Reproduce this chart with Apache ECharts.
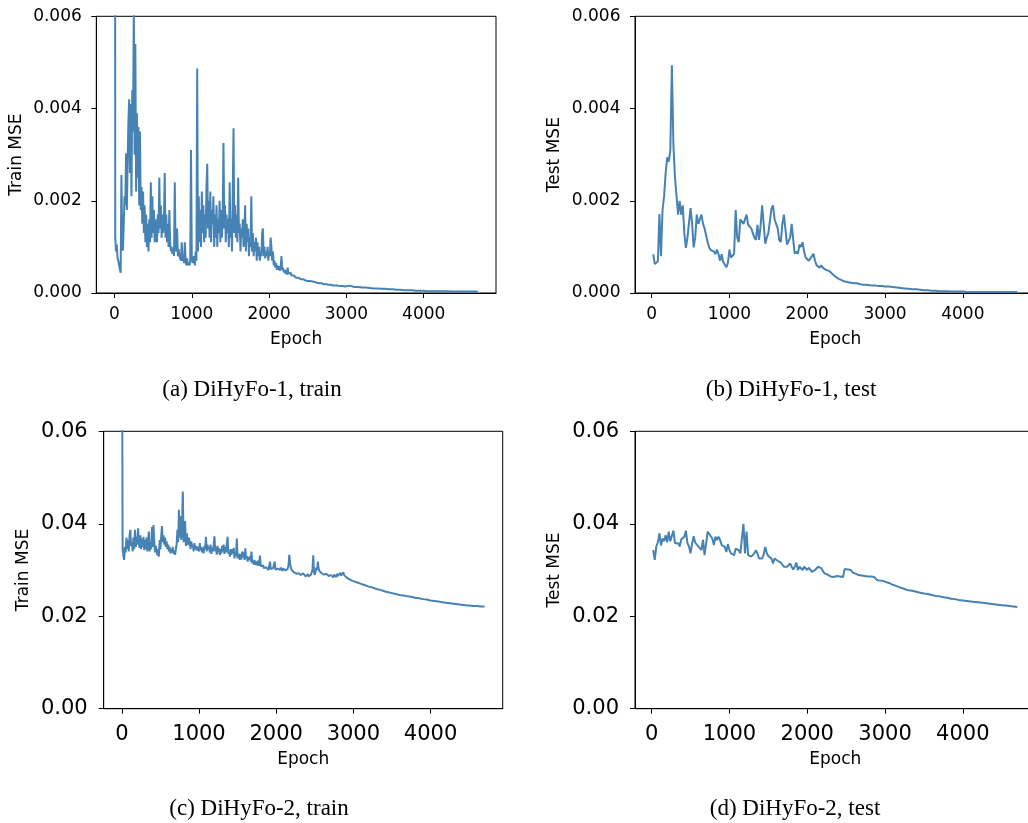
<!DOCTYPE html>
<html><head><meta charset="utf-8">
<script src="https://cdn.jsdelivr.net/npm/echarts@6/dist/echarts.min.js"></script>
<style>html,body{margin:0;padding:0;background:#fff}#c{width:1028px;height:823px}</style>
</head><body><div id="c"></div>
<script>
// ---------- DATA ----------
const trainEpochs = [
0,10,20,30,40,50,60,70,80,90,100,110,120,130,140,150,160,170,180,190,
200,210,220,230,240,250,260,270,280,290,300,310,320,330,340,350,360,370,380,390,
400,410,420,430,440,450,460,470,480,490,500,510,520,530,540,550,560,570,580,590,
600,610,620,630,640,650,660,670,680,690,700,710,720,730,740,750,760,770,780,790,
800,810,820,830,840,850,860,870,880,890,900,910,920,930,940,950,960,970,980,990,
1000,1010,1020,1030,1040,1050,1060,1070,1080,1090,1100,1110,1120,1130,1140,1150,1160,1170,1180,1190,
1200,1210,1220,1230,1240,1250,1260,1270,1280,1290,1300,1310,1320,1330,1340,1350,1360,1370,1380,1390,
1400,1410,1420,1430,1440,1450,1460,1470,1480,1490,1500,1510,1520,1530,1540,1550,1560,1570,1580,1590,
1600,1610,1620,1630,1640,1650,1660,1670,1680,1690,1700,1710,1720,1730,1740,1750,1760,1770,1780,1790,
1800,1810,1820,1830,1840,1850,1860,1870,1880,1890,1900,1910,1920,1930,1940,1950,1960,1970,1980,1990,
2000,2010,2020,2030,2040,2050,2060,2070,2080,2090,2100,2110,2120,2130,2140,2150,2160,2170,2180,2190,
2200,2210,2220,2230,2240,2250,2260,2270,2280,2290,2300,2310,2320,2330,2340,2350,2360,2370,2380,2390,
2400,2410,2420,2430,2440,2450,2460,2470,2480,2490,2500,2510,2520,2530,2540,2550,2560,2570,2580,2590,
2600,2610,2620,2630,2640,2650,2660,2670,2680,2690,2700,2710,2720,2730,2740,2750,2760,2770,2780,2790,
2800,2810,2820,2830,2840,2850,2860,2870,2880,2890,2900,2910,2920,2930,2940,2950,2960,2970,2980,2990,
3000,3050,3100,3150,3200,3250,3300,3350,3400,3450,3500,3550,3600,3650,3700,3750,3800,3850,3900,3950,
4000,4050,4100,4150,4200,4250,4300,4350,4400,4450,4500,4550,4600,4650,4700
];

// (a) DiHyFo-1 train MSE
const trainMse1 = [
0.05,0.0012,0.0009,0.00105,0.00075,0.0007,0.0006,0.00052,0.00044,0.00256,
0.0011,0.00092,0.00088,0.0021,0.0019,0.00303,0.0018,0.0028,0.0037,0.0042,
0.0026,0.0041,0.0021,0.0044,0.0035,0.0062,0.0030,0.0054,0.0022,0.0039,
0.0025,0.0036,0.0019,0.0035,0.0018,0.0023,0.0015,0.0022,0.0013,0.0019,
0.0011,0.0017,0.0010,0.0015,0.0009,0.0016,0.0011,0.0024,0.0012,0.0021,
0.0013,0.0018,0.0011,0.0016,0.0012,0.0011,0.0017,0.0013,0.0025,0.0014,
0.0019,0.0012,0.0017,0.0013,0.0016,0.0026,0.0012,0.0017,0.0011,0.0015,
0.0010,0.0018,0.0011,0.0009,0.0010,0.00085,0.00095,0.0008,0.0024,0.0010,
0.0009,0.0014,0.0008,0.00095,0.0008,0.0008,0.0007,0.0011,0.0007,0.0008,
0.00065,0.0011,0.0007,0.0006,0.00075,0.0006,0.00065,0.0006,0.0007,0.0031,
0.0008,0.00065,0.0007,0.0008,0.0006,0.0009,0.0007,0.00487,0.0009,0.0021,
0.0011,0.0018,0.0010,0.0022,0.0013,0.0019,0.0011,0.0017,0.0012,0.0023,
0.0028,0.0014,0.0020,0.0012,0.0022,0.0011,0.0018,0.0015,0.0021,0.0010,
0.0017,0.0012,0.0019,0.0010,0.0016,0.0013,0.0020,0.0011,0.0018,0.0012,
0.0017,0.00325,0.0014,0.0019,0.0011,0.0017,0.0013,0.0016,0.0010,0.0024,
0.0012,0.0016,0.0009,0.0022,0.00357,0.0013,0.0019,0.0012,0.0017,0.0011,
0.0025,0.0013,0.0015,0.0009,0.0014,0.0012,0.0016,0.0010,0.0013,0.0019,
0.0009,0.0015,0.0011,0.0014,0.0008,0.0012,0.0010,0.0021,0.0009,0.0013,
0.0008,0.0011,0.0009,0.0012,0.0007,0.0011,0.0008,0.0010,0.0007,0.0009,
0.0008,0.0013,0.0014,0.0008,0.0010,0.00075,0.0009,0.0008,0.0010,0.0007,
0.0009,0.0008,0.0012,0.0010,0.0007,0.0009,0.0006,0.0007,0.00055,0.00065,
0.0005,0.0006,0.0005,0.00058,0.00048,0.00055,0.0008,0.0005,0.00055,0.00045,
0.0005,0.00042,0.0005,0.0004,0.00055,0.00042,0.00045,0.0004,0.00044,0.00038,
0.0004,0.00036,0.00038,0.00034,0.00036,0.00033,0.00034,0.00032,0.00033,0.00031,
0.00031,0.0003,0.00031,0.00029,0.0003,0.00028,0.00029,0.00027,0.00028,0.00027,
0.00026,0.00027,0.00025,0.00026,0.00025,0.00024,0.00025,0.00024,0.00023,0.00024,
0.00022,0.00023,0.00022,0.00021,0.00022,0.00021,0.00021,0.0002,0.00021,0.0002,
0.0002,0.00019,0.0002,0.00019,0.00019,0.00018,0.00019,0.00018,0.00018,0.00017,
0.00018,0.00017,0.00017,0.00016,0.00017,0.00016,0.00016,0.00016,0.00015,0.00016,
0.00016,0.00015,0.00015,0.00016,0.00015,0.00015,0.00014,0.00015,0.00014,0.00015,
0.00015,
0.00016,0.00013,0.00013,0.00012,0.00012,0.00011,0.0001,0.0001,0.00009,0.00009,
0.00008,0.00008,0.00007,0.00007,0.00006,0.00006,0.00006,0.00005,0.00005,0.00005,
0.00004,0.00004,0.00004,0.00004,0.00004,0.00004,0.00003,0.00003,0.00003,0.00003,
0.00003,0.00003,0.00003,0.00003
];

// (c) DiHyFo-2 train MSE
const trainMse2 = [
0.10,0.0345,0.0330,0.0322,0.0350,0.0338,0.0370,0.0345,0.0365,0.0340,
0.0375,0.0387,0.0352,0.0360,0.0340,0.0370,0.0345,0.0387,0.0350,0.0372,
0.0355,0.0390,0.0360,0.0348,0.0375,0.0345,0.0368,0.0350,0.0372,0.0343,
0.0365,0.0345,0.0370,0.0340,0.0362,0.0383,0.0340,0.0360,0.0345,0.0393,
0.0350,0.0397,0.0360,0.0338,0.0352,0.0340,0.0332,0.0345,0.0329,0.0365,
0.0345,0.0372,0.0395,0.0360,0.0375,0.0355,0.0370,0.0350,0.0362,0.0345,
0.0355,0.0340,0.0350,0.0336,0.0345,0.0338,0.0350,0.0335,0.0342,0.0333,
0.0345,0.0355,0.0387,0.0360,0.0430,0.0370,0.0416,0.0365,0.0395,0.0470,
0.0360,0.0385,0.0406,0.0352,0.0380,0.0365,0.0354,0.0370,0.0358,0.0345,
0.0362,0.0350,0.0355,0.0340,0.0358,0.0345,0.0352,0.0342,0.0350,0.0345,
0.0340,0.0358,0.0342,0.0350,0.0338,0.0348,0.0336,0.0352,0.0345,0.0372,
0.0340,0.0355,0.0345,0.0350,0.0338,0.0355,0.0335,0.0348,0.0340,0.0355,
0.0373,0.0340,0.0350,0.0333,0.0352,0.0338,0.0347,0.0332,0.0345,0.0336,
0.0352,0.0340,0.0355,0.0335,0.0350,0.0338,0.0340,0.0372,0.0335,0.0340,
0.0329,0.0345,0.0333,0.0345,0.0336,0.0348,0.0325,0.0340,0.0330,0.0368,
0.0325,0.0335,0.0330,0.0322,0.0335,0.0323,0.0340,0.0328,0.0338,0.0322,
0.0347,0.0325,0.0330,0.0318,0.0328,0.0322,0.0330,0.0318,0.0340,0.0315,
0.0320,0.0312,0.0322,0.0311,0.0318,0.0310,0.0320,0.0309,0.0315,0.0331,
0.0308,0.0312,0.0305,0.0310,0.0304,0.0308,0.0303,0.0306,0.0302,0.0305,
0.0300,0.0304,0.0318,0.0302,0.0306,0.0300,0.0304,0.0302,0.0318,0.0301,
0.0305,0.0300,0.0303,0.0299,0.0302,0.0300,0.0305,0.0301,0.0298,0.0303,
0.0300,0.0305,0.0299,0.0302,0.0298,0.0303,0.0310,0.0333,0.0315,0.0305,
0.0300,0.0297,0.0299,0.0295,0.0293,0.0296,0.0292,0.0294,0.0290,0.0293,
0.0290,0.0294,0.0289,0.0292,0.0288,0.0293,0.0289,0.0291,0.0286,0.0290,
0.0288,0.0291,0.0286,0.0289,0.0287,0.0290,0.0286,0.0300,0.0332,0.0295,
0.0290,0.0296,0.0305,0.0300,0.0318,0.0303,0.0298,0.0300,0.0295,0.0293,
0.0292,0.0295,0.0290,0.0293,0.0289,0.0292,0.0288,0.0293,0.0287,0.0290,
0.0286,0.0289,0.0285,0.0288,0.0284,0.0290,0.0286,0.0289,0.0285,0.0292,
0.0287,0.0290,0.0286,0.0294,0.0288,0.0292,0.0287,0.0295,0.0289,0.0290,
0.0286,0.0284,0.0283,0.0282,0.0281,0.0280,0.0279,0.0278,0.0278,0.0277,
0.0276,
0.0273,0.0270,0.0267,0.0264,0.0262,0.0259,0.0257,0.0254,0.0252,0.0250,
0.0248,0.0246,0.0245,0.0243,0.0242,0.0240,0.0239,0.0237,0.0236,0.0234,
0.0233,0.0232,0.0230,0.0229,0.0228,0.0227,0.0226,0.0225,0.0224,0.0223,
0.0222,0.0222,0.0221,0.0221
];

const testEpochs = [
20,40,60,80,100,120,140,160,180,200,220,240,260,280,300,320,340,360,380,400,
420,440,460,480,500,520,540,560,580,600,620,640,660,680,700,720,740,760,780,800,
820,840,860,880,900,920,940,960,980,1000,1020,1040,1060,1080,1100,1120,1140,1160,1180,1200,
1220,1240,1260,1280,1300,1320,1340,1360,1380,1400,1420,1440,1460,1480,1500,1520,1540,1560,1580,1600,
1620,1640,1660,1680,1700,1720,1740,1760,1780,1800,1820,1840,1860,1880,1900,1920,1940,1960,1980,2000,
2020,2040,2060,2080,2100,2120,2140,2160,2180,2200,2220,2240,2260,2280,2300,2320,2340,2360,2380,2400,
2420,2440,2460,2480,2500,2520,2540,2560,2580,2600,2620,2640,2660,2680,2700,2720,2740,2760,2780,2800,
2820,2840,2860,2880,2900,2920,2940,2960,2980,3000,
3050,3100,3150,3200,3250,3300,3350,3400,3450,3500,3550,3600,3650,3700,3750,3800,3850,3900,3950,4000,
4050,4100,4150,4200,4250,4300,4350,4400,4450,4500,4550,4600,4650,4700
];

// (b) DiHyFo-1 test MSE
const testMse1 = [
0.00084,0.00063,0.00066,0.00069,0.00171,
0.0008,0.0018,0.0021,0.0026,0.00294,
0.00285,0.0031,0.00494,0.0032,0.0025,
0.0021,0.0017,0.0020,0.0017,0.0019,
0.0013,0.00098,0.0012,0.0012,0.00184,
0.0015,0.00099,0.0012,0.0017,0.0015,
0.0016,0.0017,0.0015,0.0014,0.0014,
0.0011,0.00098,0.00093,0.0009,0.0009,
0.00084,0.00094,0.00084,0.0007,0.00084,
0.00067,0.00062,0.00056,0.00065,0.00094,
0.00077,0.0008,0.00085,0.0018,0.0012,
0.0011,0.0016,0.0016,0.0015,0.00153,
0.0017,0.00148,0.0015,0.0014,0.0014,
0.0012,0.00115,0.00148,0.00115,0.00145,
0.0019,0.0015,0.00107,0.0012,0.0013,
0.0013,0.00183,0.0019,0.0016,0.0015,
0.0014,0.00115,0.0011,0.0015,0.0017,
0.0017,0.00105,0.00105,0.0012,0.0015,
0.00115,0.00085,0.0009,0.00085,0.00105,
0.001,0.0011,0.0009,0.00077,0.00075,
0.0007,0.00075,0.0008,0.00085,0.0007,
0.0006,0.00057,0.00055,0.0006,0.00055,
0.00052,0.0005,0.0005,0.00048,0.00045,
0.00042,0.00039,0.00036,0.00034,0.00031,
0.00029,0.00028,0.00026,0.00025,0.00024,
0.00024,0.00023,0.00022,0.00022,0.00021,
0.00021,0.00021,0.0002,0.00019,0.00019,
0.00018,0.00018,0.00018,0.00017,0.00017,
0.00017,0.00016,0.00016,0.00016,0.00016,
0.00015,0.00015,0.00015,0.00014,0.00014,
0.00014,0.00013,0.00012,0.00011,0.0001,0.00009,0.00008,0.00008,0.00007,0.00006,
0.00006,0.00005,0.00005,0.00004,0.00004,0.00004,0.00003,0.00003,0.00003,0.00003,
0.00002,0.00002,0.00002,0.00002,0.00002,0.00002,0.00002,0.00002,0.00002,0.00002,
0.00002,0.00002,0.00002,0.00002
];

// (d) DiHyFo-2 test MSE
const testMse2 = [
0.0343,0.0322,0.0351,0.0360,0.0379,
0.0353,0.0368,0.0362,0.0375,0.0360,
0.0383,0.0362,0.0358,0.0385,0.0358,
0.0362,0.0358,0.0351,0.0366,0.0363,
0.0372,0.0385,0.0358,0.0351,0.0336,
0.0357,0.0373,0.0359,0.0357,0.0351,
0.0354,0.0343,0.0365,0.0332,0.0357,
0.0383,0.0378,0.0373,0.0368,0.0354,
0.0372,0.0365,0.0372,0.0365,0.0354,
0.0357,0.0350,0.0339,0.0356,0.0343,
0.0336,0.0339,0.0332,0.0346,0.0343,
0.0343,0.0336,0.0332,0.0400,0.0336,
0.0383,0.0332,0.0332,0.0329,0.0332,
0.0336,0.0343,0.0336,0.0325,0.0327,
0.0325,0.0334,0.0350,0.0336,0.0330,
0.0327,0.0325,0.0314,0.0325,0.0323,
0.0320,0.0318,0.0316,0.0313,0.0307,
0.0307,0.0307,0.0310,0.0314,0.0307,
0.0301,0.0307,0.0316,0.0300,0.0307,
0.0309,0.0300,0.0307,0.0304,0.0300,
0.0305,0.0304,0.0296,0.0300,0.0300,
0.0304,0.0307,0.0307,0.0304,0.0300,
0.0293,0.0291,0.0290,0.0289,0.0286,
0.0288,0.0285,0.0289,0.0287,0.0288,
0.0286,0.0288,0.0285,0.0302,0.0300,
0.0301,0.0298,0.0300,0.0295,0.0293,
0.0292,0.0291,0.0289,0.0290,0.0288,
0.0289,0.0287,0.0285,0.0286,0.0283,
0.0286,0.0289,0.0285,0.0282,0.0278,
0.0279,0.0277,0.0277,0.0276,0.0275,
0.0272,0.0268,0.0265,0.0262,0.0259,0.0256,0.0255,0.0253,0.0251,0.0249,
0.0248,0.0246,0.0244,0.0243,0.0241,0.0240,0.0238,0.0237,0.0235,0.0234,
0.0233,0.0232,0.0231,0.0230,0.0229,0.0228,0.0227,0.0226,0.0225,0.0224,
0.0223,0.0222,0.0221,0.0220
];

const xTicks = [0, 1000, 2000, 3000, 4000];
const yTicksSmall = [0, 0.002, 0.004, 0.006];
const yTicksLarge = [0, 0.02, 0.04, 0.06];
const xName = 'Epoch';
const yNames = ['Train MSE', 'Test MSE', 'Train MSE', 'Test MSE'];
const captions = ['(a) DiHyFo-1, train', '(b) DiHyFo-1, test', '(c) DiHyFo-2, train', '(d) DiHyFo-2, test'];

// ---------- LAYOUT ----------
const panels = [
  {grid:{left:96.3, top:16.3, width:399.7, height:276.7}, xMin:-235, xMax:4935, yTicks:yTicksSmall, dec:3, tickFont:17, xMargin:13, yMargin:14.5, xGap:38, yGap:71.5, xs:trainEpochs, ys:trainMse1},
  {grid:{left:635, top:16.3, width:400.5, height:276.7}, xMin:-214, xMax:4934, yTicks:yTicksSmall, dec:3, tickFont:17, xMargin:13, yMargin:14.5, xGap:38, yGap:71.5, xs:testEpochs, ys:testMse1},
  {grid:{left:103.7, top:431.3, width:399, height:277.4}, xMin:-235, xMax:4935, yTicks:yTicksLarge, dec:2, tickFont:21, xMargin:15.5, yMargin:16, xGap:42, yGap:71.5, xs:trainEpochs, ys:trainMse2},
  {grid:{left:635, top:431.3, width:400.5, height:277.4}, xMin:-214, xMax:4934, yTicks:yTicksLarge, dec:2, tickFont:21, xMargin:15.5, yMargin:16, xGap:42, yGap:71.5, xs:testEpochs, ys:testMse2}
];
const capPos = [[252, 390], [791, 390], [259, 809], [795, 809]];

const FONT = 'DejaVu Sans';
const LINE = '#4682b4';
const AX = '#000';

const grids = [], xAxes = [], yAxes = [], series = [];
panels.forEach((p, i) => {
  grids.push(Object.assign({show:true, borderColor:AX, borderWidth:1, backgroundColor:'transparent', containLabel:false, outerBoundsMode:'none'}, p.grid));
  xAxes.push({
    type:'value', gridIndex:i, min:p.xMin, max:p.xMax, position:'bottom',
    name:xName, nameLocation:'middle', nameGap:p.xGap,
    nameTextStyle:{fontFamily:FONT, fontSize:17, color:AX},
    axisLine:{show:true, onZero:false, lineStyle:{color:AX, width:1}},
    axisTick:{show:true, length:5, lineStyle:{color:AX, width:1}, customValues:xTicks},
    axisLabel:{fontFamily:FONT, fontSize:p.tickFont, color:AX, margin:p.xMargin, customValues:xTicks,
      formatter:(v)=>String(Math.round(v))},
    splitLine:{show:false}
  });
  yAxes.push({
    type:'value', gridIndex:i, min:p.yTicks[0], max:p.yTicks[p.yTicks.length-1], position:'left',
    name:yNames[i], nameLocation:'middle', nameGap:p.yGap,
    nameTextStyle:{fontFamily:FONT, fontSize:17, color:AX},
    axisLine:{show:true, onZero:false, lineStyle:{color:AX, width:1}},
    axisTick:{show:true, length:5, lineStyle:{color:AX, width:1}, customValues:p.yTicks},
    axisLabel:{fontFamily:FONT, fontSize:p.tickFont, color:AX, margin:p.yMargin, customValues:p.yTicks,
      formatter:(v)=>Number(v).toFixed(p.dec)},
    splitLine:{show:false}
  });
  series.push({
    type:'line', xAxisIndex:i, yAxisIndex:i, showSymbol:false, symbol:'none', clip:true,
    lineStyle:{color:LINE, width:2}, itemStyle:{color:LINE},
    data:p.xs.map((x, k) => [x, p.ys[k]])
  });
});

const chart = echarts.init(document.getElementById('c'), null, {renderer:'canvas'});
chart.setOption({
  animation:false,
  backgroundColor:'#fff',
  grid:grids, xAxis:xAxes, yAxis:yAxes, series:series,
  graphic:captions.map((t, i) => ({
    type:'text', x:capPos[i][0], y:capPos[i][1], silent:true,
    style:{text:t, fontFamily:'Liberation Serif', fontSize:23, fill:'#000', align:'center', verticalAlign:'middle'}
  }))
});
</script>
</body></html>
